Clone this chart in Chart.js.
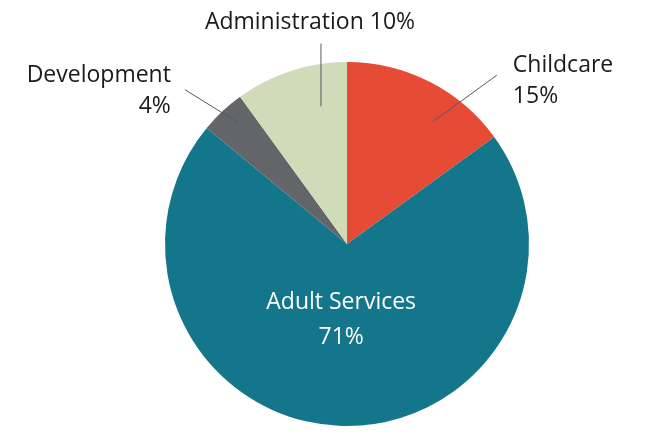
<!DOCTYPE html>
<html>
<head>
<meta charset="utf-8">
<script src="https://cdn.jsdelivr.net/npm/chart.js@4"></script>
<style>
  html, body { margin: 0; padding: 0; background: #fff; }
  #wrap { width: 648px; height: 432px; }
</style>
</head>
<body>
<div id="wrap"><canvas id="pieChart"></canvas></div>
<script>
const categories = ['Childcare', 'Adult Services', 'Development', 'Administration'];
const shares = [15, 71, 4, 10];
const colors = ['#e64b35', '#13768a', '#636569', '#d0dbba'];

// where each callout goes, in pie-radius units around the centre
const callouts = {
  'Childcare':      { inner: [35, 0.82], outer: [41.6, 1.24], text: [16, -3], align: 'left',  lines: ['Childcare', '15%'] },
  'Development':    { inner: [-42, 0.90], outer: [-46.4, 1.23], text: [-14, -8], align: 'right', lines: ['Development', '4%'] },
  'Administration': { inner: [-10.7, 0.77], outer: [-7.4, 1.11], text: [-11, -15], align: 'center', lines: ['Administration 10%'] }
};

const FONT = '23px "Open Sans", sans-serif';

function polar(cx, cy, r, deg, f) {
  const a = (deg - 90) * Math.PI / 180;
  return [cx + Math.cos(a) * r * f, cy + Math.sin(a) * r * f];
}

const labelPlugin = {
  id: 'pieLabels',
  afterDatasetsDraw(chart) {
    const ctx = chart.ctx;
    const meta = chart.getDatasetMeta(0);
    const arc0 = meta.data[0];
    const cx = arc0.x, cy = arc0.y, R = arc0.outerRadius;
    ctx.save();
    ctx.font = FONT;
    ctx.textBaseline = 'alphabetic';

    meta.data.forEach((arc, i) => {
      const name = categories[i];
      const c = callouts[name];
      if (!c) {
        // label drawn inside the big slice
        const mid = (arc.startAngle + arc.endAngle) / 2;
        const x = cx + Math.cos(mid) * R * 0.32 - 4;
        const y = cy + Math.sin(mid) * R * 0.32;
        ctx.fillStyle = '#ffffff';
        ctx.textAlign = 'center';
        ctx.fillText(name, x, y + 7);
        ctx.fillText(shares[i] + '%', x, y + 42);
        return;
      }
      const p1 = polar(cx, cy, R, c.inner[0], c.inner[1]);
      const p2 = polar(cx, cy, R, c.outer[0], c.outer[1]);
      ctx.strokeStyle = '#555a60';
      ctx.lineWidth = 1;
      ctx.beginPath();
      ctx.moveTo(p1[0], p1[1]);
      ctx.lineTo(p2[0], p2[1]);
      ctx.stroke();

      ctx.fillStyle = '#1a1a1a';
      ctx.textAlign = c.align;
      c.lines.forEach((t, k) => {
        ctx.fillText(t, p2[0] + c.text[0], p2[1] + c.text[1] + k * 31);
      });
    });
    ctx.restore();
  }
};

new Chart(document.getElementById('pieChart'), {
  type: 'pie',
  data: {
    labels: categories,
    datasets: [{
      data: shares,
      backgroundColor: colors,
      borderWidth: 0
    }]
  },
  options: {
    responsive: true,
    maintainAspectRatio: false,
    animation: false,
    layout: { padding: { top: 62, bottom: 6, left: 165, right: 119 } },
    plugins: {
      legend: { display: false },
      tooltip: { enabled: false }
    }
  },
  plugins: [labelPlugin]
});
</script>
</body>
</html>
